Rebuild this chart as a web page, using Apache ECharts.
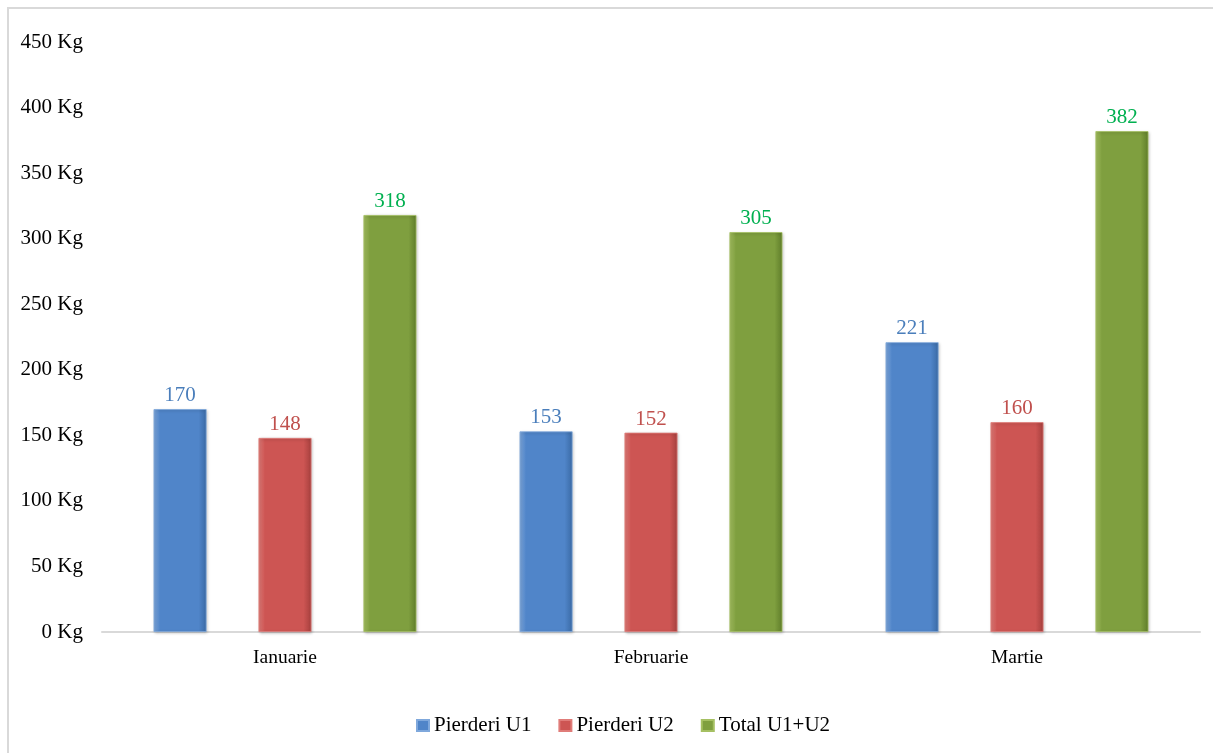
<!DOCTYPE html>
<html><head><meta charset="utf-8">
<script src="https://cdn.jsdelivr.net/npm/echarts@6/dist/echarts.min.js"></script>
<style>html,body{margin:0;padding:0;background:#fff}#c{width:1213px;height:753px}
#frame{position:absolute;left:7px;top:7px;width:1220px;height:760px;border:2px solid #d9d9d9;box-sizing:border-box;pointer-events:none}</style>
</head><body><div id="c"></div><div id="frame"></div>
<script>
const categories = ['Ianuarie', 'Februarie', 'Martie'];
const pierderiU1 = [170, 153, 221];
const pierderiU2 = [148, 152, 160];
const totalU1U2 = [318, 305, 382];
const seriesNames = ['Pierderi U1', 'Pierderi U2', 'Total U1+U2'];

const font = '"Liberation Serif", "Times New Roman", serif';
function grad(light, base, dark) {
  return new echarts.graphic.LinearGradient(0, 0, 1, 0, [
    {offset: 0, color: light}, {offset: 0.12, color: base},
    {offset: 0.85, color: base}, {offset: 1, color: dark}
  ]);
}
function mk(name, data, light, base, dark, labelColor) {
  return {
    name: name, type: 'bar', data: data, barWidth: 53, barGap: '98%',
    itemStyle: {color: grad(light, base, dark), borderColor: light, borderWidth: 0.8,
      shadowColor: 'rgba(0,0,0,0.25)', shadowBlur: 3, shadowOffsetX: 1, shadowOffsetY: 1},
    label: {show: true, position: 'top', distance: 3, color: labelColor, fontFamily: font, fontSize: 21}
  };
}
const chart = echarts.init(document.getElementById('c'), null, {renderer: 'canvas'});
chart.setOption({
  animation: false,
  grid: {left: 102, right: 13, top: 42, bottom: 121, containLabel: false},
  legend: {top: 710, left: 411, itemWidth: 12, itemHeight: 11, itemGap: 27,
    icon: 'rect', textStyle: {fontFamily: font, fontSize: 21, color: '#000'},
    data: seriesNames},
  xAxis: {type: 'category', data: categories,
    axisLine: {lineStyle: {color: '#d9d9d9', width: 2}}, axisTick: {show: false},
    axisLabel: {fontFamily: font, fontSize: 19.5, color: '#000', margin: 16}},
  yAxis: {type: 'value', min: 0, max: 450, interval: 50,
    splitLine: {show: false}, axisLine: {show: false}, axisTick: {show: false},
    axisLabel: {formatter: '{value} Kg', fontFamily: font, fontSize: 21, color: '#000', margin: 19}},
  series: [
    mk(seriesNames[0], pierderiU1, '#7fa8dc', '#5085c9', '#3a6aa5', '#4a7ebb'),
    mk(seriesNames[1], pierderiU2, '#e07c79', '#cd5553', '#a53f3d', '#c0504d'),
    mk(seriesNames[2], totalU1U2, '#a5c062', '#7f9f3f', '#5f7d2a', '#00b050')
  ]
});
</script></body></html>
